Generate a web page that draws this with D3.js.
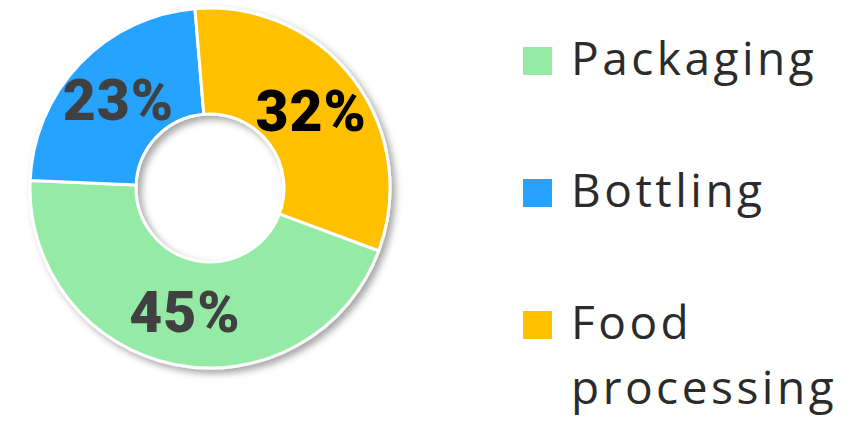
<!DOCTYPE html>
<html>
<head>
<meta charset="utf-8">
<script src="https://cdn.jsdelivr.net/npm/d3@7"></script>
<style>
  html, body { margin: 0; padding: 0; background: #fff; }
  svg { display: block; }
</style>
</head>
<body>
<svg id="chart" width="856" height="426"></svg>
<script>
// ---- data ----
const categories = ["Packaging", "Bottling", "Food processing"];
const values = [45, 23, 32];
const colors = ["#95eba5", "#27a2ff", "#ffc000"];
const labelColors = ["#404040", "#404040", "#000000"];
const legendLines = [["Packaging"], ["Bottling"], ["Food", "processing"]];

const svg = d3.select("#chart");
const cx = 210, cy = 188, rOuter = 180, rInner = 74;

const defs = svg.append("defs");
const f = defs.append("filter").attr("id", "shadow")
  .attr("x", "-20%").attr("y", "-20%").attr("width", "140%").attr("height", "140%");
f.append("feDropShadow").attr("dx", 4).attr("dy", 4).attr("stdDeviation", 3.5)
  .attr("flood-color", "#000").attr("flood-opacity", 0.35);

const data = categories.map((c, i) => ({ name: c, value: values[i], color: colors[i], lc: labelColors[i] }));
const start = 110.4 * Math.PI / 180;
const pie = d3.pie().sort(null).value(d => d.value).startAngle(start).endAngle(start + 2 * Math.PI);
const arcs = pie(data);
const arc = d3.arc().innerRadius(rInner).outerRadius(rOuter);

const g = svg.append("g").attr("transform", `translate(${cx},${cy})`);
const sg = g.append("g").attr("filter", "url(#shadow)");
sg.selectAll("path").data(arcs).join("path")
  .attr("d", arc)
  .attr("fill", d => d.data.color)
  .attr("stroke", "#fff")
  .attr("stroke-width", 3)
  .attr("stroke-linejoin", "round");

const total = d3.sum(values);
const lblArc = d3.arc().innerRadius(rInner).outerRadius(rOuter);
g.selectAll("text.lbl").data(arcs).join("text")
  .attr("class", "lbl")
  .attr("transform", d => { const c = lblArc.centroid(d); return `translate(${c[0]},${c[1]})`; })
  .attr("text-anchor", "middle")
  .attr("dominant-baseline", "central")
  .attr("font-family", "Roboto, Liberation Sans, Arial, sans-serif")
  .attr("font-weight", 900)
  .attr("font-size", 57)
  .attr("letter-spacing", 1)
  .attr("fill", d => d.data.lc)
  .text(d => Math.round(d.data.value / total * 100) + "%");

// ---- legend ----
const legendX = 523, legendY0 = 47, legendStep = 132;
const lg = svg.append("g");
data.forEach((d, i) => {
  const y = legendY0 + i * legendStep;
  lg.append("rect").attr("x", legendX).attr("y", y).attr("width", 29).attr("height", 28).attr("fill", d.color);
  const t = lg.append("text")
    .attr("x", 571).attr("y", y + 28)
    .attr("font-family", "Open Sans, sans-serif")
    .attr("font-size", 46)
    .attr("letter-spacing", 3.5)
    .attr("fill", "#2b2b2b");
  legendLines[i].forEach((line, j) => {
    t.append("tspan").attr("x", 571).attr("dy", j === 0 ? 0 : 65).text(line);
  });
});
</script>
</body>
</html>
